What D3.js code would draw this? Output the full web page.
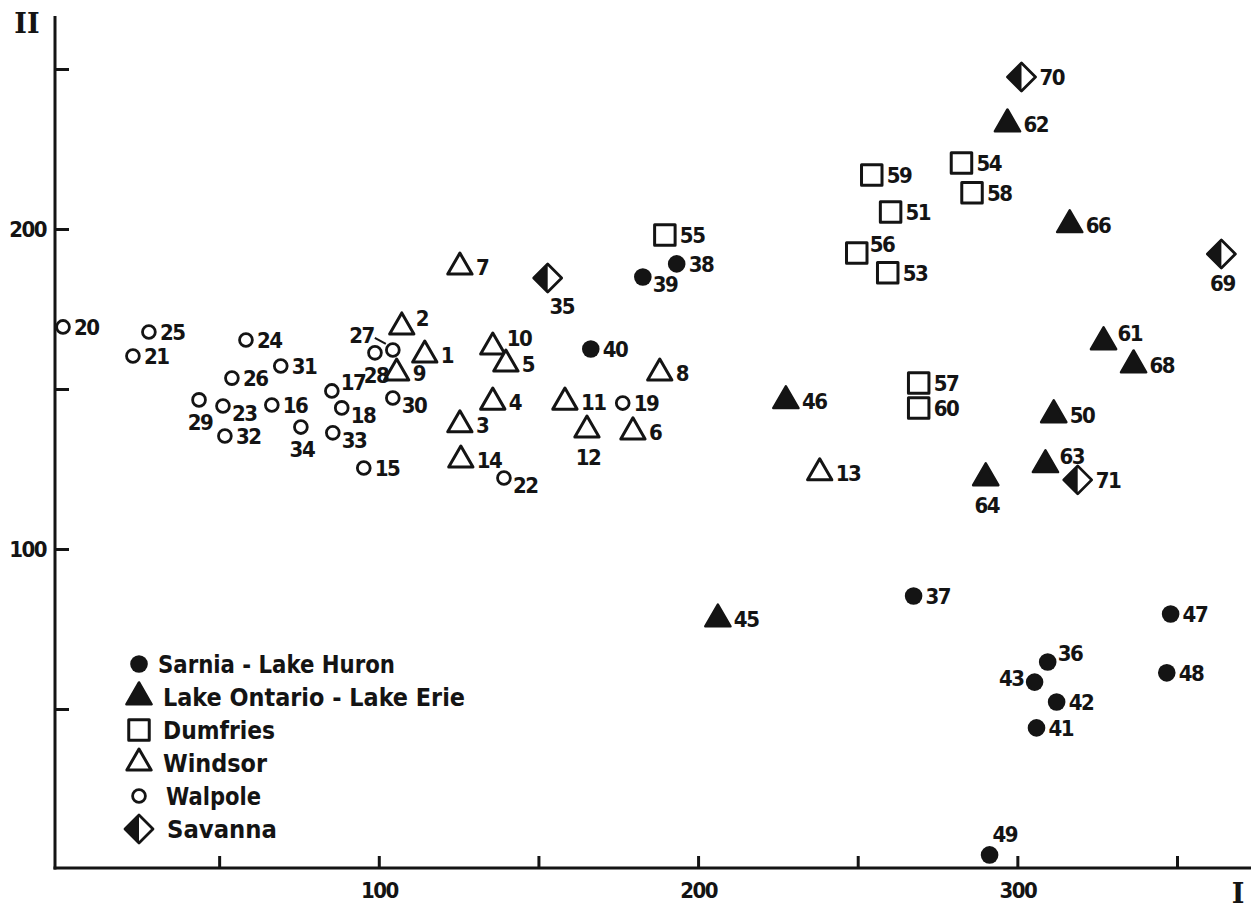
<!DOCTYPE html>
<html>
<head>
<meta charset="utf-8">
<script src="https://cdn.jsdelivr.net/npm/d3@7"></script>
<style>
  html, body { margin: 0; padding: 0; background: #fff; }
  svg { display: block; }
  .num { font-family: "DejaVu Sans Condensed", "DejaVu Sans", sans-serif; font-weight: bold; font-size: 22px; letter-spacing: -1.5px; fill: #141414; }
  .leg { font-family: "DejaVu Sans Condensed", "DejaVu Sans", sans-serif; font-weight: bold; font-size: 24px; fill: #141414; }
  .roman { font-family: "DejaVu Serif", "Liberation Serif", serif; font-weight: bold; font-size: 27px; fill: #141414; }
</style>
</head>
<body>
<svg id="chart" width="1251" height="911"></svg>
<script>
// each point: [site number, axis I, axis II]
const seriesNames = ["Sarnia - Lake Huron", "Lake  Ontario - Lake Erie", "Dumfries", "Windsor", "Walpole", "Savanna"];
const seriesKinds = ["dot", "tri", "square", "otri", "ring", "half"];

const sarnia = [
  [38, 193.3, 189.1], [39, 182.7, 185.0], [40, 166.4, 162.5], [37, 267.5, 85.3],
  [47, 348.0, 79.7], [48, 346.8, 61.3], [36, 309.5, 64.7], [43, 305.4, 58.4],
  [42, 312.3, 52.2], [41, 306.0, 44.1], [49, 291.3, 4.4]
];
const ontarioErie = [
  [62, 296.9, 232.8], [66, 316.4, 201.3], [61, 327.0, 164.7], [68, 336.4, 157.5],
  [50, 311.4, 141.9], [63, 308.8, 126.3], [64, 290.1, 122.2], [46, 227.5, 146.3],
  [45, 206.2, 78.1]
];
const dumfries = [
  [55, 189.6, 198.1], [59, 254.4, 216.9], [54, 282.5, 220.6], [58, 285.8, 211.3],
  [51, 260.3, 205.3], [56, 249.7, 192.5], [53, 259.4, 186.3], [57, 269.1, 151.9],
  [60, 269.1, 144.1]
];
const windsor = [
  [7, 125.4, 188.1], [2, 107.2, 169.4], [1, 114.4, 160.6], [9, 105.6, 155.0],
  [10, 135.7, 163.1], [5, 139.8, 157.8], [4, 135.7, 145.9], [3, 125.4, 138.8],
  [14, 125.7, 127.8], [11, 158.3, 145.9], [12, 165.2, 137.2], [6, 179.6, 136.6],
  [8, 188.0, 155.0], [13, 238.1, 123.8]
];
const walpole = [
  [20, 1.1, 169.4], [25, 28.0, 167.8], [21, 23.0, 160.3], [24, 58.4, 165.3],
  [31, 69.3, 157.2], [26, 54.0, 153.4], [29, 43.7, 146.6], [23, 51.2, 144.7],
  [16, 66.5, 145.0], [32, 51.8, 135.3], [34, 75.6, 138.1], [17, 85.3, 149.4],
  [18, 88.4, 144.1], [33, 85.6, 136.3], [15, 95.3, 125.3], [28, 98.8, 161.3],
  [27, 104.4, 162.2], [30, 104.4, 147.2], [22, 139.2, 122.2], [19, 176.4, 145.6]
];
const savanna = [
  [35, 152.9, 184.7], [70, 301.3, 247.5], [69, 363.9, 192.2], [71, 318.9, 121.6]
];

const xTicks = [50, 100, 150, 200, 250, 300, 350];
const yTicks = [50, 100, 150, 200, 250];
const xTickLabels = [100, 200, 300];
const yTickLabels = [100, 200];

// where a site number sits when it is not just to the right of its mark
const labelAt = {
  29: "b", 34: "b", 12: "b", 64: "b", 69: "b", 28: "b", 35: "bR",
  39: "br", 23: "br", 30: "br", 18: "br", 33: "br", 22: "br",
  2: "tr", 10: "tr", 17: "tr", 56: "tr", 63: "tr", 36: "tr", 61: "tr",
  43: "l", 49: "t", 27: "lead"
};

const ink = "#141414";
const svg = d3.select("#chart");

const x = d3.scaleLinear().domain([0, 350]).range([59.5, 1177]);
const y = d3.scaleLinear().domain([0, 250]).range([869, 69]);

// axis lines
svg.append("line").attr("x1", 55).attr("y1", 16).attr("x2", 55).attr("y2", 869.5)
  .attr("stroke", ink).attr("stroke-width", 3);
svg.append("line").attr("x1", 53.5).attr("y1", 868).attr("x2", 1251).attr("y2", 868)
  .attr("stroke", ink).attr("stroke-width", 3);

const gx = svg.append("g").attr("transform", "translate(0,868)")
  .call(d3.axisBottom(x).tickValues(xTicks).tickSize(-12).tickPadding(14)
    .tickFormat(d => xTickLabels.includes(d) ? d : ""));
gx.select(".domain").remove();
gx.selectAll("line").attr("stroke", ink).attr("stroke-width", 3);
gx.selectAll("text").attr("class", "num");

const gy = svg.append("g").attr("transform", "translate(55,0)")
  .call(d3.axisLeft(y).tickValues(yTicks).tickSize(-14).tickPadding(9)
    .tickFormat(d => yTickLabels.includes(d) ? d : ""));
gy.select(".domain").remove();
gy.selectAll("line").attr("stroke", ink).attr("stroke-width", 3);
gy.selectAll("text").attr("class", "num");

svg.append("text").attr("class", "roman").attr("x", 27).attr("y", 33)
  .attr("text-anchor", "middle").text("II");
svg.append("text").attr("class", "roman").attr("x", 1238).attr("y", 903)
  .attr("text-anchor", "middle").text("I");

// half size of each mark, used for label offsets
const halfW = { dot: 9, tri: 13, square: 12, otri: 13, ring: 8, half: 15 };

function diamond(h, leftOnly) {
  const p = d3.path();
  p.moveTo(0, -h);
  if (!leftOnly) p.lineTo(h, 0);
  p.lineTo(0, h);
  p.lineTo(-h, 0);
  p.closePath();
  return p.toString();
}

function drawMark(g, kind) {
  if (kind === "dot") {
    g.append("circle").attr("r", 8.8).attr("fill", ink);
  } else if (kind === "ring") {
    g.append("circle").attr("r", 6.4).attr("fill", "#fff").attr("stroke", ink).attr("stroke-width", 2.8);
  } else if (kind === "tri") {
    g.append("path").attr("d", d3.symbol(d3.symbolTriangle, 275)())
      .attr("fill", ink).attr("stroke", ink).attr("stroke-width", 2.5).attr("stroke-linejoin", "round");
  } else if (kind === "otri") {
    g.append("path").attr("d", d3.symbol(d3.symbolTriangle, 255)())
      .attr("fill", "#fff").attr("stroke", ink).attr("stroke-width", 3).attr("stroke-linejoin", "round");
  } else if (kind === "square") {
    g.append("path").attr("d", d3.symbol(d3.symbolSquare, 420)())
      .attr("fill", "#fff").attr("stroke", ink).attr("stroke-width", 3).attr("stroke-linejoin", "round");
  } else if (kind === "half") {
    g.append("path").attr("d", diamond(14, false))
      .attr("fill", "#fff").attr("stroke", ink).attr("stroke-width", 2.8).attr("stroke-linejoin", "round");
    g.append("path").attr("d", diamond(14, true)).attr("fill", ink);
  }
}

function placeLabel(g, id, kind) {
  const hw = halfW[kind];
  const code = labelAt[id] || "r";
  let dx = hw + 3, dy = 8, anchor = "start";
  if (code === "b") { dx = 1; dy = hw + 22; anchor = "middle"; }
  else if (code === "bR") { dx = 14; dy = hw + 21; anchor = "middle"; }
  else if (code === "br") { dx = hw + 1; dy = 15; }
  else if (code === "tr") { dx = hw + 1; dy = -1; }
  else if (code === "l") { dx = -(hw + 2); dy = 4; anchor = "end"; }
  else if (code === "t") { dx = 3; dy = -13; }
  else if (code === "lead") {
    dx = -19; dy = -7; anchor = "end";
    g.append("line").attr("x1", -18).attr("y1", -12).attr("x2", -7).attr("y2", -6)
      .attr("stroke", ink).attr("stroke-width", 2);
  }
  g.append("text").attr("class", "num").attr("x", dx).attr("y", dy)
    .attr("text-anchor", anchor).text(id);
}

const allSeries = [sarnia, ontarioErie, dumfries, windsor, walpole, savanna];

allSeries.forEach((pts, si) => {
  const kind = seriesKinds[si];
  const grp = svg.append("g").attr("class", "series-" + si);
  const pt = grp.selectAll("g").data(pts).enter().append("g")
    .attr("transform", d => `translate(${x(d[1])},${y(d[2])})`);
  pt.each(function (d) {
    const g = d3.select(this);
    drawMark(g, kind);
    placeLabel(g, d[0], kind);
  });
});

// legend
const legendY = d3.scalePoint().domain(seriesNames).range([664, 829]);
const legendTextX = [158, 163, 163, 163, 166, 167];
const legendTextW = [237, 302, 112, 104, 95, 110];
const legend = svg.append("g");
seriesNames.forEach((name, i) => {
  const row = legend.append("g").attr("transform", `translate(139,${legendY(name)})`);
  drawMark(row, seriesKinds[i]);
  legend.append("text").attr("class", "leg")
    .attr("x", legendTextX[i]).attr("y", legendY(name) + 9)
    .attr("textLength", legendTextW[i]).attr("lengthAdjust", "spacingAndGlyphs")
    .text(name);
});
</script>
</body>
</html>
